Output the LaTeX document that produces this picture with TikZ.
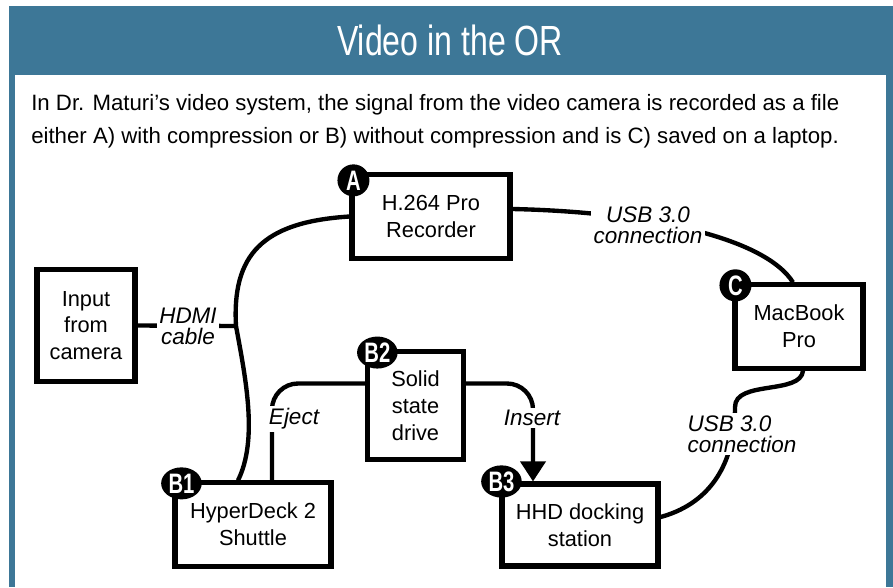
\documentclass[tikz,border=0pt]{standalone}
\usepackage{fontspec}
\setmainfont{Liberation Sans}
\newfontfamily\titlefont[FakeStretch=0.76]{Liberation Sans}
\newfontfamily\badgefont[FakeStretch=0.72]{Liberation Sans}
\usetikzlibrary{positioning,calc,arrows.meta,shapes.geometric}
\definecolor{orblue}{RGB}{61,119,151}

\begin{document}
\begin{tikzpicture}[
  x=0.025cm, y=-0.025cm,
  device/.style={draw, line width=3.6pt, align=center, inner sep=0pt,
    font=\fontsize{15.5}{19}\selectfont},
  cable/.style={line width=3.1pt},
  cablelabel/.style={fill=white, inner sep=1.5pt, align=center,
    font=\fontsize{16}{15}\selectfont\itshape},
  badge/.style={ellipse, fill=black, text=white, inner sep=1pt,
    minimum width=0.8cm, minimum height=0.8cm,
    font=\badgefont\bfseries\fontsize{20}{20}\selectfont}
]
  \useasboundingbox (0,0) rectangle (893,587);

  % panel frame
  \fill[orblue] (9,6) rectangle (893,587);
  \fill[white] (15,75) rectangle (886,587);
  \node[text=white, font=\titlefont\fontsize{30}{30}\selectfont] (title) at (450,40) {Video in the OR};
  \node[anchor=west, align=left, inner sep=0pt, font=\fontsize{15.8}{23.5}\selectfont] (intro) at (31,121)
    {In Dr. Maturi’s video system, the signal from the video camera is recorded as a file\\
     either A) with compression or B) without compression and is C) saved on a laptop.};

  \node[device, minimum width=2.45cm, minimum height=2.78cm] (input) at (86,325.5) {Input\\from\\camera};
  \node[device, minimum width=3.95cm, minimum height=2.08cm] (rec) at (431,216.5) {H.264 Pro\\Recorder};
  \node[device, minimum width=2.38cm, minimum height=2.72cm] (ssd) at (415.5,405.5) {Solid\\state\\drive};
  \node[device, minimum width=3.9cm, minimum height=2.08cm] (shuttle) at (253,524.5) {HyperDeck 2\\Shuttle};
  \node[device, minimum width=3.9cm, minimum height=2.05cm] (dock) at (580,525) {HHD docking\\station};
  \node[device, minimum width=3.2cm, minimum height=2.08cm] (mac) at (799,326.5) {MacBook\\Pro};

  \coordinate (hjoin) at (236,326);
  \coordinate (uwave) at (735,407);

  \draw[cable] (input.east) -- (hjoin);
  \draw[cable] (rec.west) .. controls (262,222) and (232,255) .. (hjoin)
    .. controls (246,380) and (258,440) .. ($(shuttle.north)+(-15,0)$);
  \draw[cable] ($(rec.east)+(0,-7.5)$) .. controls (650,212) and (765,238) .. ($(mac.north)+(-6,0)$);
  \draw[cable] ($(mac.south)+(4,0)$) .. controls (801,395) and (735,380) .. (uwave)
    .. controls (735,470) and (705,505) .. ($(dock.east)+(0,-8)$);
  \draw[cable, rounded corners=0.65cm] ($(ssd.west)+(0,-22)$) -| ($(shuttle.north)+(19,0)$);
  \draw[cable, rounded corners=0.65cm, -{Triangle[width=0.62cm, length=0.5cm]}]
    ($(ssd.east)+(0,-22)$) -| ($(dock.north)+(-47,0)$);

  \node[cablelabel] (hdmi) at (188,326) {HDMI\\cable};
  \node[cablelabel] (usbtop) at (648,225) {USB 3.0\\connection};
  \node[cablelabel, align=left] (usbbot) at (742,434) {USB 3.0\\connection};
  \node[cablelabel] (eject) at (294,419) {Eject};
  \node[cablelabel] (insert) at (532,418) {Insert};

  \node[badge] (bA) at ($(rec.north west)+(4,8)$) {A};
  \node[badge] (bB1) at ($(shuttle.north west)+(9,3)$) {B1};
  \node[badge] (bB2) at ($(ssd.north west)+(12,4)$) {B2};
  \node[badge] (bB3) at ($(dock.north west)+(2,0)$) {B3};
  \node[badge] (bC) at ($(mac.north west)+(3,3)$) {C};
\end{tikzpicture}
\end{document}
